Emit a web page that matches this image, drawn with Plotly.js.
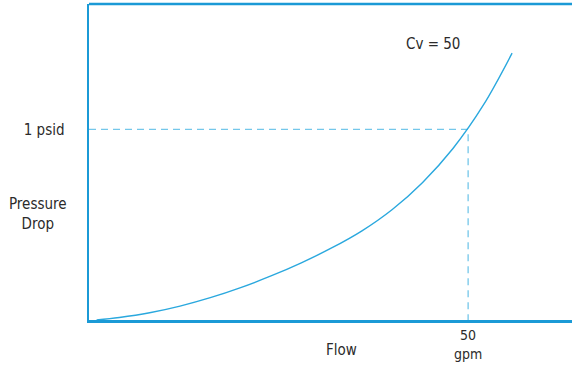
<!DOCTYPE html>
<html><head><meta charset="utf-8">
<script src="https://cdn.plot.ly/plotly-3.0.1.min.js"></script>
<style>html,body{margin:0;padding:0;background:#fff}#chart{width:572px;height:365px}</style>
</head><body><div id="chart"></div>
<script>
// Flow (gpm) vs pressure drop (psid)
const flow = [1, 4, 8, 12, 16, 20, 24, 28, 32, 36, 40, 44, 48, 52, 55.8];
const drop = [0, 0.013, 0.038, 0.073, 0.117, 0.170, 0.231, 0.300, 0.378, 0.468, 0.580, 0.722, 0.900, 1.127, 1.40];
const refFlow = 50, refDrop = 1;
const xTickVals = [50], xTickText = ['50<br>gpm'];
const yTickVals = [1], yTickText = ['1 psid'];

const blue = '#1b9ad6', curveBlue = '#2aa8de', dashBlue = '#74c7ea';
const fnt = {family: '"Liberation Sans Narrow", "DejaVu Sans Condensed", sans-serif', size: 15, color: '#2b2b2b'};
const tickFnt = Object.assign({}, fnt, {size: 14});

const traces = [
  {x: [0, refFlow, refFlow], y: [refDrop, refDrop, 0], mode: 'lines',
   line: {color: dashBlue, width: 1.3, dash: '7px,5px'}, hoverinfo: 'skip'},
  {x: flow, y: drop, mode: 'lines', line: {color: curveBlue, width: 1.4, shape: 'spline', smoothing: 1}}
];
const L = 89, T = 4, B = 45, W = 572, H = 365;
const pw = W - L, ph = H - T - B;
const px = v => (v - L) / pw, py = v => (H - B - v) / ph;
const ann = (text, x, y) => ({text, x: px(x), y: py(y), xref: 'paper', yref: 'paper', xanchor: 'center', yanchor: 'middle',
  showarrow: false, font: fnt, align: 'center'});
const layout = {
  width: W, height: H, showlegend: false,
  margin: {l: L, r: 0, t: T, b: B},
  paper_bgcolor: '#fff', plot_bgcolor: '#fff',
  xaxis: {range: [0, 63.7], showgrid: false, zeroline: false, showline: true, linecolor: blue, linewidth: 2.5,
          tickvals: xTickVals, ticktext: xTickText, ticks: '', tickfont: tickFnt, ticklabelstandoff: 1},
  yaxis: {range: [0, 1.658], showgrid: false, zeroline: false, showline: true, linecolor: blue, linewidth: 2.5,
          tickvals: yTickVals, ticktext: yTickText, ticks: '', tickfont: fnt, ticklabelstandoff: 19},
  shapes: [{type: 'line', xref: 'paper', yref: 'paper', x0: 0, x1: 1, y0: 1, y1: 1, line: {color: blue, width: 2.5}}],
  annotations: [
    ann('Cv = 50', 433, 44),
    ann('Pressure<br>Drop', 38, 214),
    ann('Flow', 341, 350)
  ]
};
Plotly.newPlot('chart', traces, layout, {displayModeBar: false, staticPlot: true});
</script></body></html>
